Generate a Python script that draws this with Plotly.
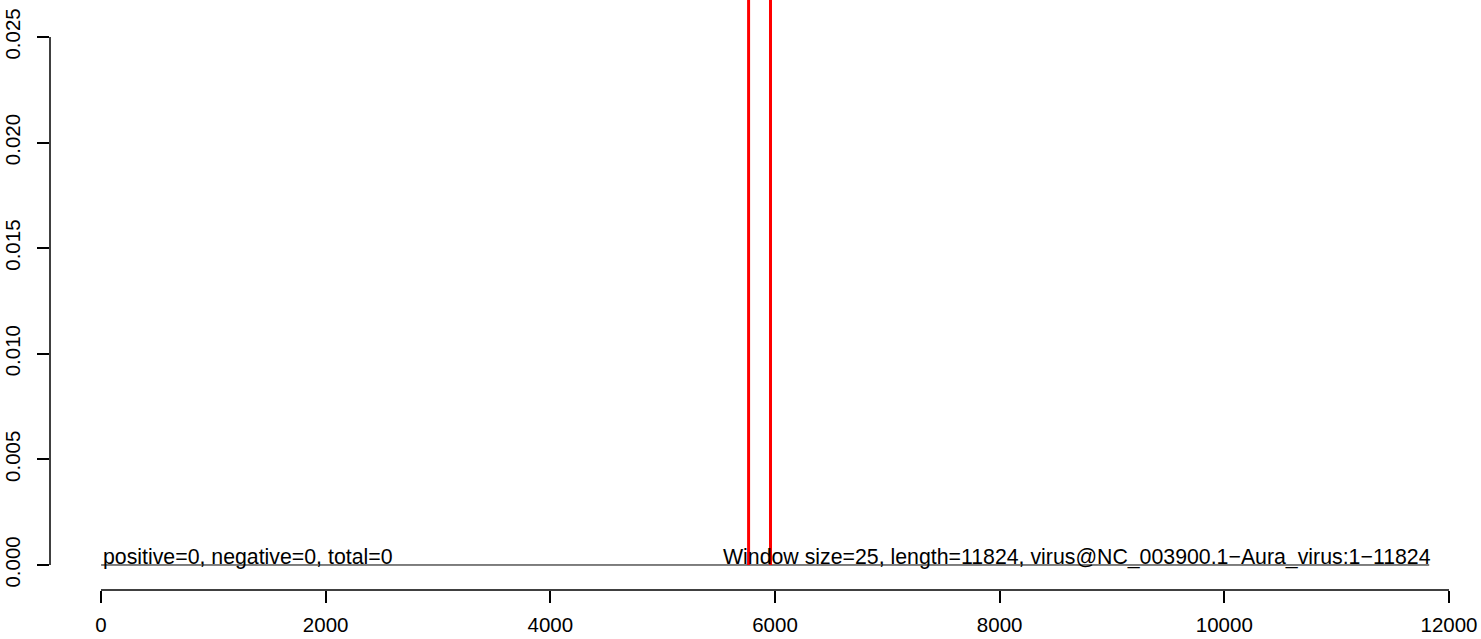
import plotly.graph_objects as go

# data
seq_positions = [1, 11824]
seq_values = [0, 0]
marker_positions = [5765, 5960]
y_ticks = [0.000, 0.005, 0.010, 0.015, 0.020, 0.025]
y_tick_labels = ["0.000", "0.005", "0.010", "0.015", "0.020", "0.025"]
x_ticks = [0, 2000, 4000, 6000, 8000, 10000, 12000]
x_tick_labels = ["0", "2000", "4000", "6000", "8000", "10000", "12000"]
left_label = "positive=0, negative=0, total=0"
right_label = "Window size=25, length=11824, virus@NC_003900.1\u2212Aura_virus:1\u221211824"

FONT = "Liberation Sans, Arial, Helvetica, sans-serif"
FS_TICK = 20.5
FS_TEXT = 21.3

fig = go.Figure()

fig.add_trace(go.Scatter(x=seq_positions, y=seq_values, mode="lines",
                         line=dict(color="black", width=1), showlegend=False,
                         hoverinfo="skip"))

rx, ry = [], []
for p in marker_positions:
    rx += [p, p, None]
    ry += [0, 1, None]
fig.add_trace(go.Scatter(x=rx, y=ry, mode="lines",
                         line=dict(color="red", width=3), showlegend=False,
                         hoverinfo="skip"))

# R-style axis lines spanning only the tick range
fig.add_shape(type="line", xref="paper", yref="y", x0=0, x1=0,
              y0=y_ticks[0], y1=y_ticks[-1], line=dict(color="black", width=1.5))
fig.add_shape(type="line", xref="x", yref="paper", x0=x_ticks[0], x1=x_ticks[-1],
              y0=0, y1=0, line=dict(color="black", width=1.5))

fig.add_annotation(x=seq_positions[0], y=0, text=left_label, showarrow=False,
                   xanchor="left", yanchor="bottom", yshift=-6,
                   font=dict(family=FONT, size=FS_TEXT, color="black"))
fig.add_annotation(x=seq_positions[-1], y=0, text=right_label, showarrow=False,
                   xanchor="right", yanchor="bottom", yshift=-6, xshift=4,
                   font=dict(family=FONT, size=FS_TEXT, color="black"))

fig.update_layout(
    width=1481, height=639,
    margin=dict(l=50, r=0, t=0, b=49, autoexpand=False),
    plot_bgcolor="white", paper_bgcolor="white",
    font=dict(family=FONT, size=FS_TICK, color="black"),
    xaxis=dict(range=[-454, 12285], tickvals=x_ticks, ticktext=x_tick_labels,
               ticks="outside", ticklen=12, tickwidth=1.5, tickcolor="black",
               showgrid=False, zeroline=False, showline=False, automargin=False,
               ticklabelstandoff=4,
               tickfont=dict(family=FONT, size=FS_TICK)),
    yaxis=dict(range=[-0.001184, 0.026752], tickvals=y_ticks, ticktext=y_tick_labels,
               ticks="outside", ticklen=12, tickwidth=1.5, tickcolor="black",
               tickangle=-90, showgrid=False, zeroline=False, showline=False,
               automargin=False, ticklabelstandoff=9,
               tickfont=dict(family=FONT, size=FS_TICK)),
)

fig.write_html("out.html", config={"displayModeBar": False},
               post_script="document.body.style.margin='0';document.body.style.overflow='hidden';")
